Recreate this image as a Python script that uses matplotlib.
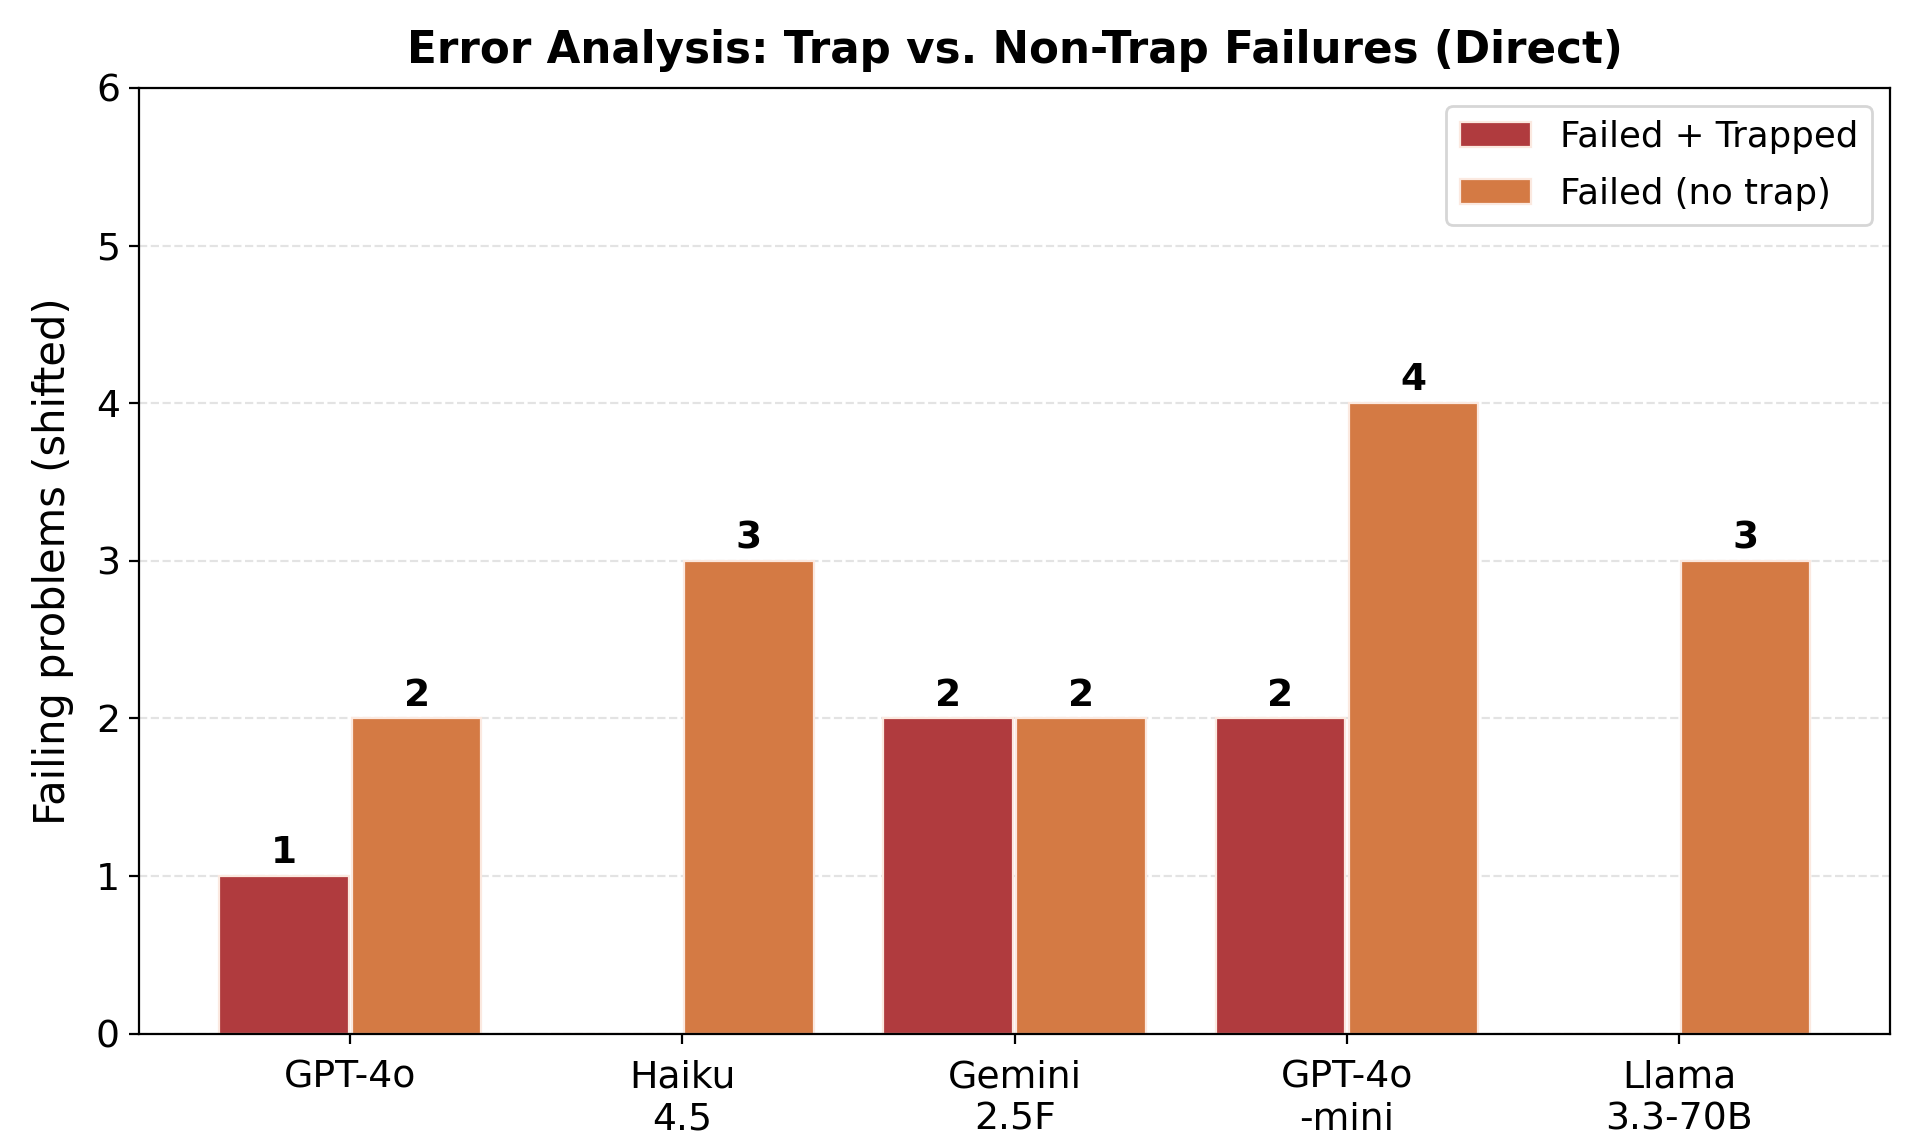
import numpy as np
import matplotlib
matplotlib.use('Agg')
import matplotlib.pyplot as plt

models = ['GPT-4o', 'Haiku\n4.5', 'Gemini\n2.5F', 'GPT-4o\n-mini', 'Llama\n3.3-70B']
trapped = [1, 0, 2, 2, 0]
no_trap = [2, 3, 2, 4, 3]

c_trap = '#b03b3e'
c_notrap = '#d47a44'

fig = plt.figure(figsize=(9.59, 5.67), dpi=200)
ax = fig.add_axes([0.0727, 0.0886, 0.9127, 0.8338])

x = np.arange(len(models))
w = 0.39
b1 = ax.bar(x - 0.2, trapped, w, color=c_trap, edgecolor='#fbe9e0', linewidth=0.8, label='Failed + Trapped')
b2 = ax.bar(x + 0.2, no_trap, w, color=c_notrap, edgecolor='#fbe9e0', linewidth=0.8, label='Failed (no trap)')

for bars, vals in [(b1, trapped), (b2, no_trap)]:
    for r, v in zip(bars, vals):
        if v > 0:
            ax.text(r.get_x() + r.get_width() / 2, v + 0.03, str(v), ha='center', va='bottom',
                    fontsize=13.5, fontweight='bold')

ax.set_ylim(0, 6)
ax.set_xticks(x)
ax.set_xticklabels(models)
ax.tick_params(labelsize=13.6)
ax.tick_params(axis='x', pad=6)
ax.set_ylabel('Failing problems (shifted)', fontsize=15, labelpad=8)
ax.set_title('Error Analysis: Trap vs. Non-Trap Failures (Direct)', fontsize=15.7, fontweight='bold', pad=9)
ax.yaxis.grid(True, linestyle='--', color='#dddddd', alpha=0.8, linewidth=0.8)
ax.set_axisbelow(True)
ax.legend(loc='upper right', fontsize=12.8, labelspacing=0.65)

fig.savefig('out.png', dpi=200)
